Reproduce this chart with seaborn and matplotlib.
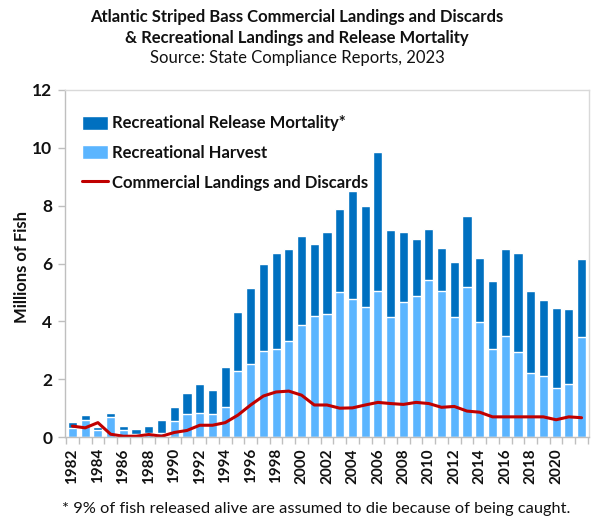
import numpy as np
import pandas as pd
import matplotlib
matplotlib.use("Agg")
import matplotlib.pyplot as plt
import seaborn as sns

years = list(range(1982, 2023))
harvest = [0.30, 0.59, 0.24, 0.70, 0.24, 0.10, 0.13, 0.13, 0.55, 0.80,
           0.85, 0.80, 1.04, 2.28, 2.52, 2.99, 3.05, 3.32, 3.86, 4.18,
           4.25, 5.01, 4.77, 4.51, 5.04, 4.15, 4.68, 4.88, 5.43, 5.04,
           4.15, 5.20, 3.99, 3.05, 3.49, 2.93, 2.22, 2.12, 1.69, 1.83, 3.46]
total = [0.52, 0.76, 0.36, 0.85, 0.39, 0.27, 0.39, 0.59, 1.04, 1.53,
         1.82, 1.63, 2.44, 4.32, 5.16, 5.97, 6.36, 6.49, 6.95, 6.69,
         7.08, 7.88, 8.51, 7.99, 9.87, 7.15, 7.08, 6.85, 7.20, 6.52,
         6.04, 7.63, 6.20, 5.39, 6.49, 6.36, 5.06, 4.74, 4.47, 4.44, 6.14]
release = [round(t - h, 2) for t, h in zip(total, harvest)]
commercial = [0.38, 0.32, 0.50, 0.10, 0.03, 0.03, 0.09, 0.03, 0.16, 0.23,
              0.41, 0.41, 0.50, 0.76, 1.11, 1.42, 1.56, 1.59, 1.45, 1.11,
              1.11, 1.00, 1.01, 1.11, 1.20, 1.16, 1.13, 1.20, 1.16, 1.03,
              1.06, 0.90, 0.86, 0.70, 0.70, 0.70, 0.70, 0.70, 0.60, 0.70, 0.67]
tick_labels = [str(y) if (y % 2 == 0 and y <= 2020) else "" for y in years]

df = pd.DataFrame({
    "year": [str(y) for y in years],
    "harvest": harvest,
    "release": release,
    "commercial": commercial,
})
df["stack_top"] = df["harvest"] + df["release"]
df["idx"] = np.arange(len(df))

sns.set_theme(style="white")
plt.rcParams["font.family"] = ["Lato", "DejaVu Sans"]

dark = "#0070C0"
light = "#5BB5FF"
red = "#C00000"
grey = "#BFBFBF"
txt = "#111111"

fig = plt.figure(figsize=(6.0, 5.26), dpi=100)
ax = fig.add_axes([0.108, 0.169, 0.874, 0.66])

sns.barplot(data=df, x="year", y="stack_top", color=dark, width=0.72,
            saturation=1, ax=ax, label="Recreational Release Mortality*")
sns.barplot(data=df, x="year", y="harvest", color=light, width=0.72,
            saturation=1, ax=ax, label="Recreational Harvest")
sns.lineplot(data=df, x="idx", y="commercial", color=red, linewidth=2.2,
             ax=ax, label="Commercial Landings and Discards")

ax.set_xlim(-0.6, len(df) - 0.4)
ax.set_ylim(0, 12)
ax.set_yticks(range(0, 13, 2))
ax.set_yticklabels([str(v) for v in range(0, 13, 2)], fontweight="bold",
                   fontsize=12.5, color=txt)
ax.set_xticks(range(len(df)))
ax.set_xticklabels(tick_labels, rotation=90, fontweight="bold", fontsize=11, color=txt)
ax.tick_params(axis="x", which="major", length=0, pad=8)
ax.set_xticks(np.arange(len(df) + 1) - 0.5, minor=True)
ax.tick_params(axis="x", which="minor", length=5, color=grey, width=1,
               direction="out", bottom=True)
ax.tick_params(axis="y", length=5, color=grey, width=1, direction="out",
               left=True, pad=4)
ax.set_xlabel("")
ax.set_ylabel("Millions of Fish", fontweight="bold", fontsize=12, color=txt)
ax.yaxis.set_label_coords(-0.066, 0.49)
for s in ax.spines.values():
    s.set_color("#D9D9D9")
    s.set_linewidth(1)
ax.spines["bottom"].set_color(grey)
ax.spines["left"].set_color(grey)

handles, labels = ax.get_legend_handles_labels()
order = [labels.index("Recreational Release Mortality*"),
         labels.index("Recreational Harvest"),
         labels.index("Commercial Landings and Discards")]
leg = ax.legend([handles[i] for i in order], [labels[i] for i in order],
                loc="upper left", frameon=False, handlelength=1.55,
                handleheight=0.9, labelspacing=0.82, borderaxespad=0.0,
                bbox_to_anchor=(0.02, 0.946), handletextpad=0.25,
                prop={"weight": "bold", "size": 12})
for t in leg.get_texts():
    t.set_color(txt)

fig.text(0.495, 0.967, "Atlantic Striped Bass Commercial Landings and Discards",
         ha="center", va="center", fontweight="bold", fontsize=12, color=txt)
fig.text(0.495, 0.927, "& Recreational Landings and Release Mortality",
         ha="center", va="center", fontweight="bold", fontsize=12, color=txt)
fig.text(0.495, 0.889, "Source: State Compliance Reports, 2023",
         ha="center", va="center", fontsize=12, color=txt)
fig.text(0.103, 0.032, "* 9% of fish released alive are assumed to die because of being caught.",
         ha="left", va="center", fontsize=11.8, color=txt)

fig.savefig("out.png", dpi=100)
